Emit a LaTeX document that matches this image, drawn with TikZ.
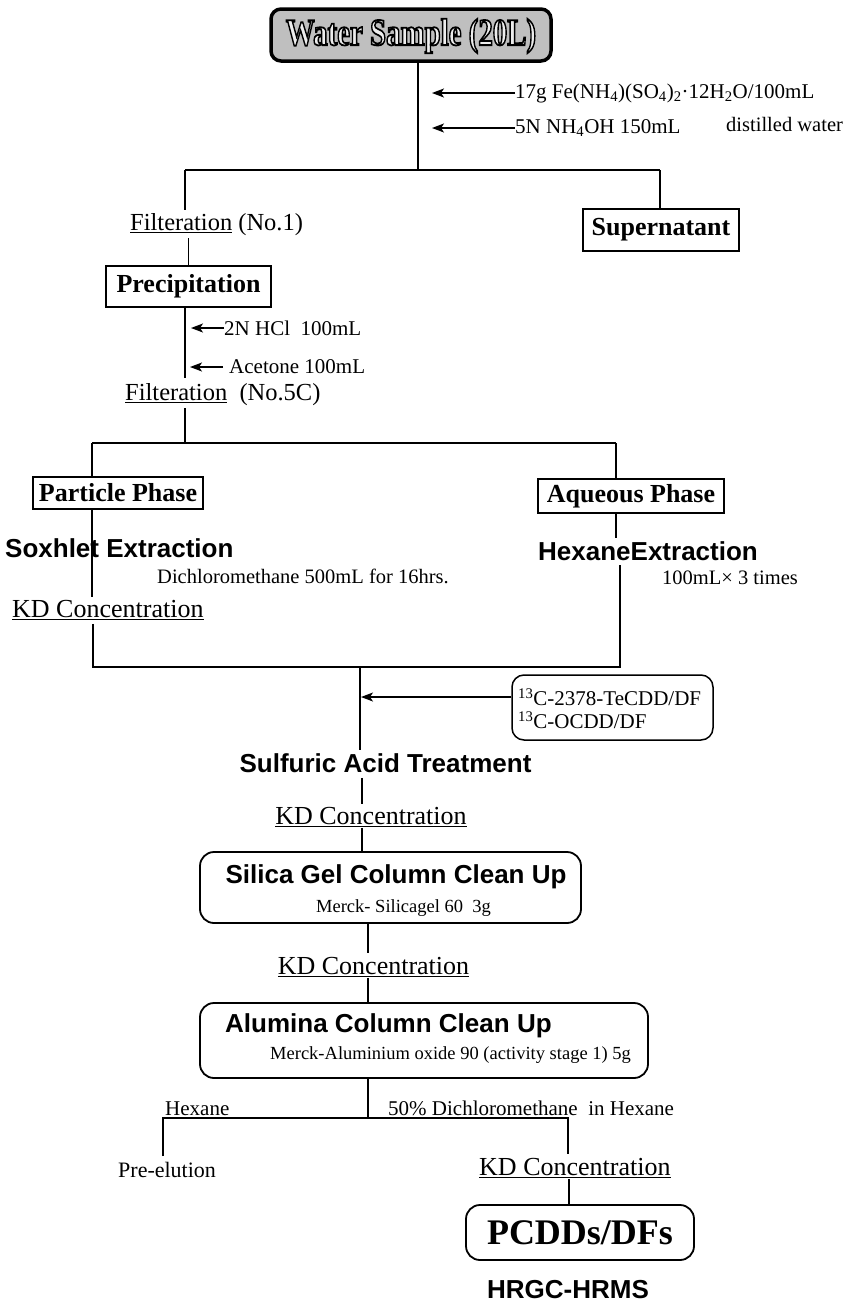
\documentclass[tikz,border=0pt]{standalone}
\usepackage{fontspec}
\usepackage{graphicx}
\setmainfont{Liberation Serif}
\newfontfamily\sansf{Liberation Sans}
\usetikzlibrary{arrows.meta}
\newcommand\fs[1]{\fontsize{#1}{#1}\selectfont}
\newcommand\outlinetext[1]{%
  \special{pdf:literal direct 2 Tr 1.8 w 0 G 0.93 g}#1\special{pdf:literal direct 0 Tr 0 g 0 G}}
\tikzset{
  ln/.style={line width=1.6pt},
  tx/.style={inner sep=0pt, font=\fs{21}},
  kd/.style={inner sep=0pt, font=\fs{26}},
  bsans/.style={inner sep=0pt, font=\sansf\bfseries\fs{26}},
  sbox/.style={draw, line width=1.8pt, inner sep=0pt, font=\bfseries\fs{26}},
  rbox/.style={draw, line width=1.8pt, rounded corners=14pt, inner sep=0pt},
  wtext/.style={inner sep=0pt, font=\bfseries\fs{38}},
  arr/.style={line width=1.4pt, -{Stealth[length=12pt,width=9pt,inset=3pt]}}
}
\begin{document}
\begin{tikzpicture}[x=1pt,y=-1pt]
\useasboundingbox (0,0) rectangle (846,1309);
\fill[white] (0,0) rectangle (846,1309);

% top box
\node[draw, line width=3.5pt, rounded corners=10pt, fill=gray!50, minimum width=280pt, minimum height=52pt, inner sep=0pt] (w) at (411,35) {};
\node[wtext] (wt) at ([yshift=-1pt]w.center) {\scalebox{0.76}[1]{\outlinetext{Water Sample\ (20L)}}};

\coordinate (j1) at (418,170);
\draw[ln] (j1 |- w.south) -- (j1);
\node[tx, anchor=west] (r1) at (515,93) {17g Fe(NH\textsubscript{4})(SO\textsubscript{4})\textsubscript{2}·12H\textsubscript{2}O/100mL};
\node[tx, anchor=west] (r2) at (515,128) {5N NH\textsubscript{4}OH 150mL};
\node[tx, anchor=west, font=\fs{20.5}] (r3) at (726,124) {distilled water};
\draw[arr] (r1.west) -- ([xshift=14pt]j1 |- r1.west);
\draw[arr] (r2.west) -- ([xshift=14pt]j1 |- r2.west);

% first split
\coordinate (jL) at (185,170);
\coordinate (jR) at (660,170);
\draw[ln] (jL) -- (jR);
\node[anchor=west, inner sep=0pt, font=\fs{24.5}] (f1) at (130,225) {\underline{Filteration} (No.1)};
\draw[ln] (jL) -- ([yshift=4pt]jL |- f1.north);
\node[sbox, minimum width=156pt, minimum height=42pt] (sup) at (661,230) {Supernatant};
\draw[ln] (jR) -- (jR |- sup.north);

\node[sbox, minimum width=165pt, minimum height=41pt] (prec) at (188.5,286.5) {Precipitation};
\draw[ln] ([yshift=-2pt]prec.north |- f1.south) -- (prec.north);

\node[anchor=west, inner sep=0pt, font=\fs{24.5}] (f2) at (125,395) {\underline{Filteration}\ \ (No.5C)};
\draw[ln] (prec.south -| jL) -- ([yshift=6pt]jL |- f2.north);
\node[tx, anchor=west] (h1) at (224,328) {2N HCl\ \ 100mL};
\node[tx, anchor=west] (h2) at (229,367) {Acetone 100mL};
\draw[arr] (h1.west) -- ([xshift=6pt]jL |- h1.west);
\draw[arr] ([xshift=-6pt]h2.west) -- ([xshift=5pt]jL |- h2.west);

% second split
\coordinate (j2) at (185,443);
\coordinate (j2L) at (92,443);
\coordinate (j2R) at (616,443);
\draw[ln] ([yshift=-2pt]jL |- f2.south) -- (j2);
\draw[ln] (j2L) -- (j2R);
\node[sbox, minimum width=170pt, minimum height=32pt] (part) at (118,493) {Particle Phase};
\draw[ln] (j2L) -- (j2L |- part.north);
\node[sbox, minimum width=186pt, minimum height=34pt] (aq) at (631,496) {Aqueous Phase};
\draw[ln] (j2R) -- (j2R |- aq.north);

\node[bsans, anchor=west] (sox) at (5,548) {Soxhlet Extraction};
\node[tx, anchor=west, font=\fs{20.5}] (dcm) at (157,576) {Dichloromethane 500mL for 16hrs.};
\node[kd, anchor=west] (kd1) at (12,610) {\underline{KD Concentration}};
\draw[ln] (part.south -| j2L) -- ([yshift=3pt]j2L |- kd1.north);

\node[bsans, anchor=west] (hex) at (538,551) {HexaneExtraction};
\node[tx, anchor=west, font=\fs{20.5}] (tms) at (662,578) {100mL× 3 times};
\draw[ln] (aq.south -| j2R) -- ([yshift=3pt]j2R |- hex.north);

% merge
\coordinate (j3L) at (93,667);
\coordinate (j3R) at (620,667);
\coordinate (j3) at (360,667);
\draw[ln] ([yshift=-4pt]j3L |- kd1.south) -- (j3L) -- (j3R) -- ([yshift=-4pt]j3R |- hex.south);

\node[draw, line width=1.5pt, rounded corners=12pt, minimum width=201pt, minimum height=65pt, inner sep=0pt] (c13) at (612.5,707.5) {};
\node[tx, anchor=west] (c13a) at (518,697) {\textsuperscript{13}C-2378-TeCDD/DF};
\node[tx, anchor=west] (c13b) at (518,720) {\textsuperscript{13}C-OCDD/DF};
\draw[arr] (c13.west |- c13a) -- ([xshift=1pt]j3 |- c13a);

\node[bsans] (sul) at (385.5,763) {Sulfuric Acid Treatment};
\draw[ln] (j3) -- ([yshift=3pt]j3 |- sul.north);

\coordinate (c1) at (362,0);
\coordinate (c2) at (368,0);
\node[kd] (kd2) at (371,817) {\underline{KD Concentration}};
\draw[ln] ([yshift=-5pt]c1 |- sul.south) -- ([yshift=3pt]c1 |- kd2.north);

\node[rbox, minimum width=381pt, minimum height=71pt] (sil) at (390.5,887.5) {};
\node[bsans] (silt) at (396,877) {Silica Gel Column Clean Up};
\node[tx, font=\fs{18.5}] (silm) at (403.5,908) {Merck- Silicagel 60\ \ 3g};
\draw[ln] ([yshift=-1pt]c1 |- kd2.south) -- (c1 |- sil.north);

\node[kd] (kd3) at (373.5,967) {\underline{KD Concentration}};
\draw[ln] (c2 |- sil.south) -- ([yshift=4pt]c2 |- kd3.north);

\node[rbox, minimum width=448pt, minimum height=75pt] (alu) at (424,1040.5) {};
\node[bsans, anchor=west] (alut) at (225,1026) {Alumina Column Clean Up};
\node[tx, anchor=west, font=\fs{18.5}] (alum) at (270,1055) {Merck-Aluminium oxide 90 (activity stage 1) 5g};
\draw[ln] ([yshift=-1pt]c2 |- kd3.south) -- (c2 |- alu.north);

% final split
\coordinate (j4) at (368,1118);
\coordinate (j4L) at (163,1118);
\coordinate (j4R) at (568,1118);
\draw[ln] (alu.south -| j4) -- (j4);
\node[tx, anchor=base west] (hx) at (165,1115) {Hexane};
\node[tx, anchor=base west] (dcm2) at (388,1115) {50\% Dichloromethane\ \ in Hexane};
\node[tx, anchor=west, font=\fs{22}] (pre) at (118,1170) {Pre-elution};
\node[kd, anchor=west] (kd4) at (479,1168) {\underline{KD Concentration}};
\draw[ln] ([yshift=6pt]j4L |- pre.north) -- (j4L) -- (j4R) -- ([yshift=4pt]j4R |- kd4.north);

\coordinate (c4) at (569,0);
\node[draw, line width=1.8pt, rounded corners=14pt, minimum width=228pt, minimum height=55pt, inner sep=0pt, font=\bfseries\fs{36}] (pc) at (580,1232.5) {PCDDs/DFs};
\draw[ln] ([yshift=-1pt]c4 |- kd4.south) -- (c4 |- pc.north);

\node[bsans] (hr) at (568,1290) {HRGC-HRMS};
\end{tikzpicture}
\end{document}
